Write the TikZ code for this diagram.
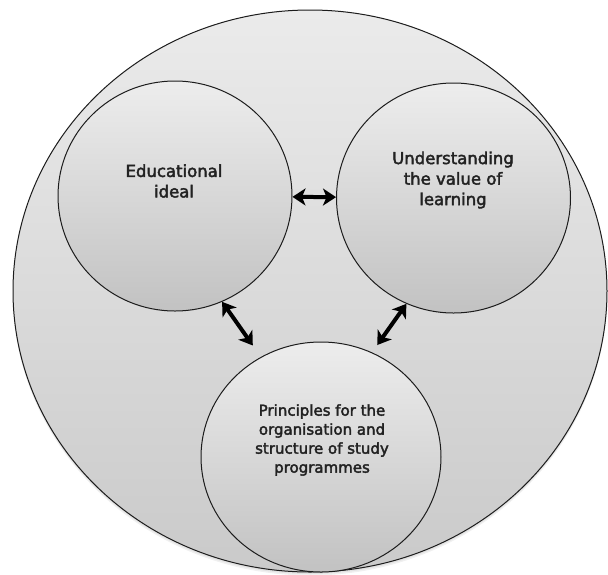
\documentclass[tikz,border=0pt]{standalone}
\usepackage{fontspec}
\setmainfont{DejaVu Sans}
\newfontfamily\labelfont[FakeBold=2.5]{DejaVu Sans}
\usetikzlibrary{arrows.meta,shapes.geometric}

\definecolor{outertop}{HTML}{EBEBEB}
\definecolor{outerbottom}{HTML}{CACACA}
\definecolor{bubbletop}{HTML}{EDEDED}
\definecolor{bubblebottom}{HTML}{C2C2C2}
\definecolor{rim}{HTML}{1C1C1C}
\definecolor{ink}{HTML}{222222}

\tikzset{
  outerbox/.style={ellipse, draw=rim, line width=1pt, inner sep=0pt,
    top color=outertop, bottom color=outerbottom,
    minimum width=594pt, minimum height=562pt},
  bubble/.style={ellipse, draw=rim, line width=1pt, inner sep=0pt,
    top color=bubbletop, bottom color=bubblebottom},
  topbubble/.style={bubble, minimum width=234pt, minimum height=230pt},
  lowbubble/.style={bubble, minimum width=240pt, minimum height=230pt},
  caption/.style={align=center, text=ink, inner sep=0pt,
    font=\labelfont\fontsize{16.5}{20.5}\selectfont},
  smallcaption/.style={caption, font=\labelfont\fontsize{15}{19}\selectfont},
  link/.style={line width=4pt, black,
    {Stealth[length=13pt,width=17pt,inset=3.5pt]}-{Stealth[length=13pt,width=17pt,inset=3.5pt]}},
  haze/.style={ellipse, fill=black, inner sep=0pt, draw=none,
    minimum width=594pt, minimum height=562pt}
}

\begin{document}
\begin{tikzpicture}[x=1pt,y=-1pt]
  \useasboundingbox (0,0) rectangle (608,574);

  % soft shadow under the enclosing ellipse
  \node[haze, opacity=0.06] at (310,294.5) {};
  \node[haze, opacity=0.06] at (310,293) {};

  % enclosing ellipse
  \node[outerbox] (O) at (310,291) {};

  % the three bubbles
  \node[topbubble] (L) at (175,196) {};
  \node[topbubble] (R) at (453.5,198) {};
  \node[lowbubble] (B) at (321,457) {};

  % captions
  \node[caption] (Lt) at (174,181) {Educational\\ideal};
  \node[caption] (Rt) at (453,180) {Understanding\\the value of\\learning};
  \node[smallcaption] (Bt) at (322,440)
    {Principles for the\\organisation and\\structure of study\\programmes};

  % two-way links
  \draw[link] (L) -- (R);
  \draw[link, shorten >=14pt] (L.-66) -- (B.121);
  \draw[link, shorten >=9pt] (R.-114) -- (B.64);
\end{tikzpicture}
\end{document}
